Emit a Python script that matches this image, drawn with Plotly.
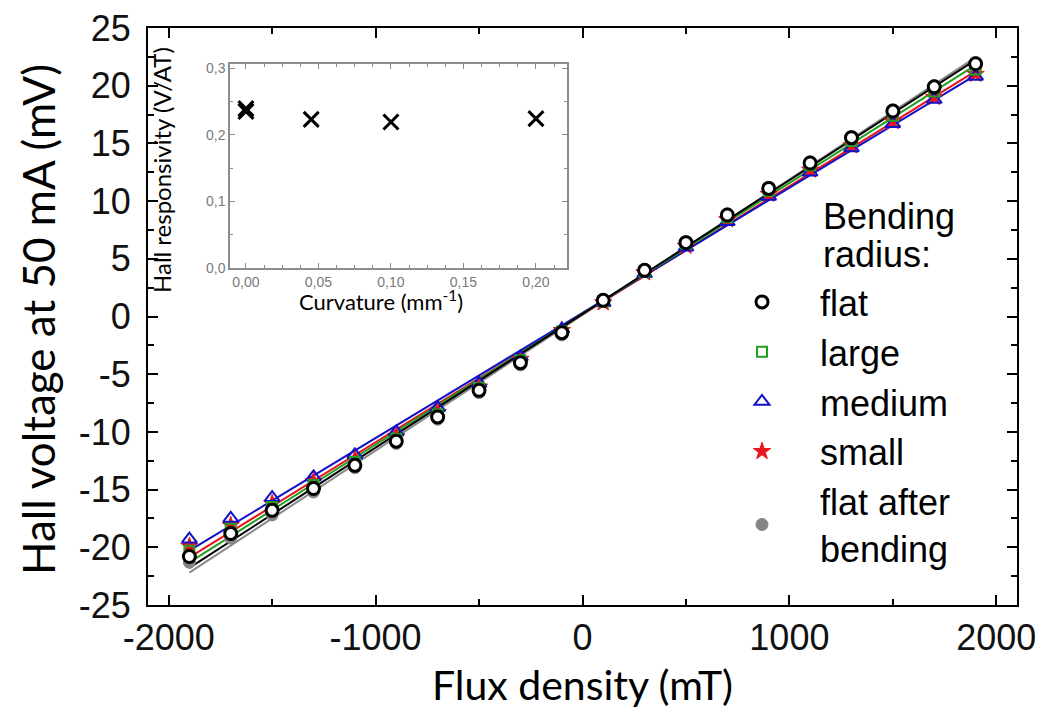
import numpy as np
import plotly.graph_objects as go

# ---------------- data ----------------
flux_mT = [-1900, -1700, -1500, -1300, -1100, -900, -700, -500, -300, -100,
           100, 300, 500, 700, 900, 1100, 1300, 1500, 1700, 1900]

v_flat = [-20.8, -18.8, -16.8, -14.9, -12.9, -10.8, -8.7, -6.4, -4.0, -1.4,
          1.4, 4.0, 6.4, 8.8, 11.1, 13.3, 15.5, 17.8, 19.9, 21.9]
v_large = [-20.3, -18.4, -16.5, -14.6, -12.6, -10.6, -8.5, -6.2, -3.8, -1.3,
           1.3, 3.9, 6.3, 8.6, 10.9, 13.1, 15.2, 17.4, 19.5, 21.4]
v_medium = [-19.3, -17.5, -15.7, -13.9, -12.0, -10.0, -7.9, -5.8, -3.5, -1.1,
            1.2, 3.7, 6.0, 8.2, 10.4, 12.5, 14.6, 16.7, 18.8, 20.8]
v_small = [-19.9, -18.1, -16.2, -14.3, -12.4, -10.4, -8.3, -6.1, -3.7, -1.2,
           1.2, 3.8, 6.1, 8.4, 10.6, 12.7, 14.8, 16.9, 19.0, 21.0]
v_after = [-21.3, -19.2, -17.2, -15.2, -13.1, -11.0, -8.9, -6.6, -4.2, -1.6,
           1.4, 4.0, 6.5, 8.9, 11.2, 13.4, 15.6, 17.9, 20.0, 22.0]

series_names = ["flat", "large", "medium", "small", "flat after<br>bending"]

curvature = [0.0, 0.0, 0.045, 0.10, 0.20]
responsivity = [0.235, 0.239, 0.223, 0.219, 0.224]

x_ticks = [-2000, -1000, 0, 1000, 2000]
x_tick_text = ["-2000", "-1000", "0", "1000", "2000"]
y_ticks = [-25, -20, -15, -10, -5, 0, 5, 10, 15, 20, 25]
y_tick_text = ["-25", "-20", "-15", "-10", "-5", "0", "5", "10", "15", "20", "25"]
inset_x_ticks = [0.0, 0.05, 0.10, 0.15, 0.20]
inset_x_text = ["0,00", "0,05", "0,10", "0,15", "0,20"]
inset_y_ticks = [0.0, 0.1, 0.2, 0.3]
inset_y_text = ["0,0", "0,1", "0,2", "0,3"]

# ---------------- styles ----------------
TICKFONT = "Liberation Sans, Arial, sans-serif"
TITLEFONT = "Lato, Open Sans, sans-serif"

styles = {
    "flat": dict(symbol="circle", color="white", line=dict(color="black", width=3), size=12),
    "large": dict(symbol="square-open", color="#22a022", line=dict(color="#22a022", width=2), size=10),
    "medium": dict(symbol="triangle-up-open", color="#1010c8", line=dict(color="#1010c8", width=2), size=13),
    "small": dict(symbol="star", color="#e8141e", line=dict(color="#e8141e", width=1), size=13),
    "after": dict(symbol="circle", color="#858585", line=dict(color="#858585", width=1), size=12),
}
line_colors = {"flat": "black", "large": "#22a022", "medium": "#1010c8",
               "small": "#e8141e", "after": "#8a8a8a"}

data = {"flat": v_flat, "large": v_large, "medium": v_medium,
        "small": v_small, "after": v_after}
names = dict(zip(["flat", "large", "medium", "small", "after"], series_names))
ranks = {"flat": 1, "large": 2, "medium": 3, "small": 4, "after": 5}

fig = go.Figure()

# linear fit lines
xs = np.array(flux_mT, dtype=float)
for key in ["after", "small", "medium", "large", "flat"]:
    k, b = np.polyfit(xs, np.array(data[key]), 1)
    fig.add_trace(go.Scatter(x=xs, y=k * xs + b, mode="lines",
                             line=dict(color=line_colors[key], width=2),
                             showlegend=False, hoverinfo="skip"))

# markers (drawing order: after bottom, flat top)
for key in ["after", "small", "medium", "large", "flat"]:
    fig.add_trace(go.Scatter(x=flux_mT, y=data[key], mode="markers",
                             marker=styles[key], name=names[key],
                             legendrank=ranks[key], legendgroup=key))

# inset
fig.add_trace(go.Scatter(x=curvature, y=responsivity, mode="markers",
                         marker=dict(symbol="x-thin", size=15,
                                     line=dict(color="black", width=3)),
                         xaxis="x2", yaxis="y2", showlegend=False))

axis_common = dict(showline=True, linecolor="black", linewidth=2, mirror="ticks",
                   ticks="inside", tickcolor="black", tickwidth=1.5, ticklen=10,
                   showgrid=False, zeroline=False, automargin=False,
                   ticklabeloverflow="allow",
                   tickfont=dict(family=TICKFONT, size=36, color="#111"))

# page offset of the figure (default body margin)
OFF = 8
FIG_W, FIG_H = 1043 - OFF, 719 - OFF
# plot area in page pixels: x 148..1017, y 28..605
L, T = 148 - OFF, 28 - OFF
R = FIG_W - (1017 - OFF)
B = FIG_H - (605 - OFF)
W, H = FIG_W - L - R, FIG_H - T - B


def px(xp):
    return (xp - OFF - L) / W


def py(yp):
    return (FIG_H - B - (yp - OFF)) / H


fig.update_layout(
    width=FIG_W, height=FIG_H,
    margin=dict(l=L, r=R, t=T, b=B),
    paper_bgcolor="white", plot_bgcolor="white",
    xaxis=dict(range=[-2100, 2100], tickvals=x_ticks, ticktext=x_tick_text,
               minor=dict(dtick=500, ticks="inside", ticklen=6, tickcolor="black", tickwidth=1.5),
               title=dict(text="Flux density (mT)", font=dict(family=TITLEFONT, size=41, color="black"),
                          standoff=14),
               **axis_common),
    yaxis=dict(range=[-25, 25], tickvals=y_ticks, ticktext=y_tick_text, ticklabelstandoff=8,
               minor=dict(dtick=2.5, ticks="inside", ticklen=6, tickcolor="black", tickwidth=1.5),
               **axis_common),
    xaxis2=dict(domain=[px(230), px(567)], anchor="y2", range=[-0.011, 0.2214],
                tickvals=inset_x_ticks, ticktext=inset_x_text,
                showline=True, linecolor="#8c8c8c", linewidth=1.5, mirror="ticks",
                ticks="inside", ticklen=5, tickcolor="#8c8c8c",
                minor=dict(dtick=0.0125, ticks="inside", ticklen=3, tickcolor="#8c8c8c"),
                showgrid=False, zeroline=False, automargin=False,
                tickfont=dict(family=TICKFONT, size=14, color="#7a7a7a")),
    yaxis2=dict(domain=[py(268), py(64)], anchor="x2", range=[0, 0.306],
                tickvals=inset_y_ticks, ticktext=inset_y_text,
                showline=True, linecolor="#8c8c8c", linewidth=1.5, mirror="ticks",
                ticks="inside", ticklen=5, tickcolor="#8c8c8c",
                minor=dict(dtick=0.05, ticks="inside", ticklen=3, tickcolor="#8c8c8c"),
                showgrid=False, zeroline=False, automargin=False,
                tickfont=dict(family=TICKFONT, size=14, color="#7a7a7a")),
    showlegend=True,
    legend=dict(x=px(704), y=py(272), xanchor="left", yanchor="top",
                font=dict(family=TICKFONT, size=36, color="black"),
                bgcolor="rgba(0,0,0,0)", itemwidth=106, tracegroupgap=0,
                itemclick=False),
    annotations=[
        dict(text="Hall voltage at 50 mA (mV)", xref="paper", yref="paper",
             x=px(38), y=py(320), textangle=-90,
             xanchor="center", yanchor="middle", showarrow=False,
             font=dict(family=TITLEFONT, size=44, color="black")),
        dict(text="Bending", xref="paper", yref="paper", x=px(821), y=py(216),
             xanchor="left", yanchor="middle", showarrow=False,
             font=dict(family=TICKFONT, size=36, color="black")),
        dict(text="radius:", xref="paper", yref="paper", x=px(821), y=py(254),
             xanchor="left", yanchor="middle", showarrow=False,
             font=dict(family=TICKFONT, size=36, color="black")),
        dict(text="Hall responsivity (V/AT)", xref="paper", yref="paper",
             x=px(161), y=py(170), textangle=-90,
             xanchor="center", yanchor="middle", showarrow=False,
             font=dict(family=TITLEFONT, size=24, color="black")),
        dict(text="Curvature (mm<sup>-1</sup>)", xref="paper", yref="paper",
             x=px(381), y=py(300),
             xanchor="center", yanchor="middle", showarrow=False,
             font=dict(family=TITLEFONT, size=22, color="black")),
    ],
)

fig.write_html("out.html")
